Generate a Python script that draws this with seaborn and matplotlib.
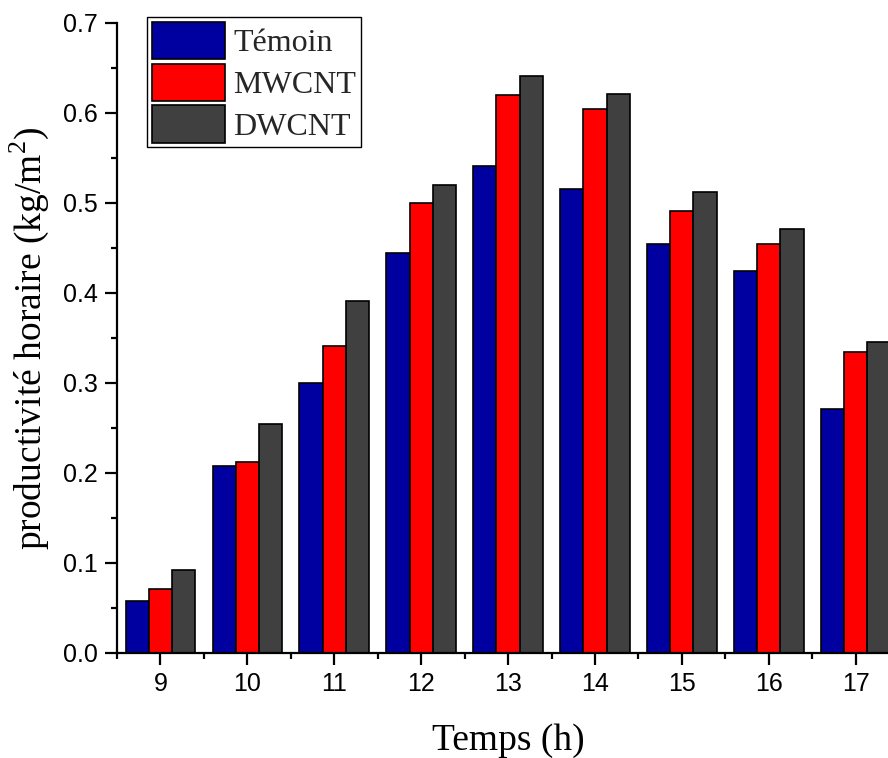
import matplotlib
matplotlib.use("Agg")
import matplotlib.pyplot as plt
import seaborn as sns
import pandas as pd
import numpy as np
from matplotlib.patches import Patch
from matplotlib.ticker import MultipleLocator, FixedLocator

hours = ["9", "10", "11", "12", "13", "14", "15", "16", "17"]
temoin = [0.058, 0.208, 0.300, 0.445, 0.541, 0.516, 0.454, 0.425, 0.271]
mwcnt = [0.071, 0.212, 0.341, 0.500, 0.620, 0.604, 0.491, 0.454, 0.334]
dwcnt = [0.092, 0.254, 0.391, 0.520, 0.641, 0.621, 0.512, 0.471, 0.346]
series = ["Témoin", "MWCNT", "DWCNT"]
colors = ["#0000A0", "#FF0000", "#404040"]

df = pd.DataFrame({
    "Temps": hours * 3,
    "val": temoin + mwcnt + dwcnt,
    "serie": [series[0]] * 9 + [series[1]] * 9 + [series[2]] * 9,
})

sns.set_theme(style="white")
plt.rcParams["font.family"] = ["Liberation Sans", "DejaVu Sans"]
plt.rcParams["mathtext.fontset"] = "custom"
plt.rcParams["mathtext.rm"] = "Liberation Serif"

fig = plt.figure(figsize=(8.88, 7.58), dpi=100)
ax = fig.add_axes([117 / 888, 1 - 653 / 758, 9 * 86.9 / 888, 630 / 758])

sns.barplot(data=df, x="Temps", y="val", hue="serie", hue_order=series,
            order=hours, palette=colors, edgecolor="black", linewidth=1.2,
            width=0.8, gap=0, saturation=1, legend=False, ax=ax)

ax.set_xlim(-0.5, 8.5)
ax.set_ylim(0, 0.7)
ax.yaxis.set_minor_locator(MultipleLocator(0.05))
ax.xaxis.set_minor_locator(FixedLocator(np.arange(-0.5, 9, 1.0)))
ax.set_yticks(np.arange(0, 0.71, 0.1))
ax.set_yticklabels([f"{v:.1f}" for v in np.arange(0, 0.71, 0.1)])

for s in ["top", "right"]:
    ax.spines[s].set_visible(False)
for s in ["left", "bottom"]:
    ax.spines[s].set_linewidth(1.6)
    ax.spines[s].set_color("black")

ax.tick_params(axis="both", which="major", direction="out", length=8.5, width=1.6,
               labelsize=18, colors="black", pad=5, left=True, bottom=True)
ax.tick_params(axis="both", which="minor", direction="out", length=4.5, width=1.6,
               colors="black", left=True, bottom=True)

serif = ["Liberation Serif", "DejaVu Serif"]
ax.set_xlabel("Temps (h)", fontsize=27, family=serif, labelpad=20, color="black")
ax.set_ylabel("productivité horaire (kg/m$^2$)", fontsize=27, family=serif,
              color="black", labelpad=9)

handles = [Patch(facecolor=c, edgecolor="black", linewidth=1.2) for c in colors]
leg = fig.legend(handles, series, loc="upper left",
                 bbox_to_anchor=(147 / 888, 1 - 17 / 758),
                 bbox_transform=fig.transFigure, borderaxespad=0,
                 prop={"family": serif, "size": 23}, frameon=True,
                 fancybox=False, edgecolor="black", framealpha=1,
                 handlelength=2.3, handleheight=1.42, labelspacing=0.14,
                 handletextpad=0.25, borderpad=0.15)
leg.get_frame().set_linewidth(1.0)

fig.savefig("out.png", dpi=100)
